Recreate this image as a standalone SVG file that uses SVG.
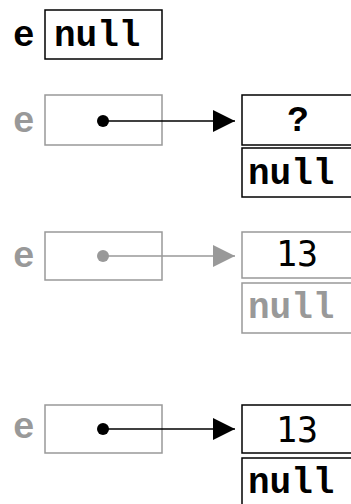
<svg xmlns="http://www.w3.org/2000/svg" width="351" height="504" viewBox="0 0 351 504">
  <defs>
    <marker id="arrow-black" viewBox="0 0 22 22" refX="22" refY="11" markerWidth="22" markerHeight="22" markerUnits="userSpaceOnUse" orient="auto">
      <path d="M0,0 L22,11 L0,22 Z" fill="#000"/>
    </marker>
    <marker id="arrow-gray" viewBox="0 0 22 22" refX="22" refY="11" markerWidth="22" markerHeight="22" markerUnits="userSpaceOnUse" orient="auto">
      <path d="M0,0 L22,11 L0,22 Z" fill="#999"/>
    </marker>
  </defs>
  <style>
    .code { font-family: "Liberation Mono", "Courier New", monospace; font-weight: bold; font-size: 36px; }
    .num { font-family: "DejaVu Sans Mono", monospace; font-size: 35px; fill: #000; }
    .ink { fill: #000; }
    .dim { fill: #999; }
    .box { fill: #fff; stroke: #000; stroke-width: 1.5; }
    .box-dim { fill: #fff; stroke: #999; stroke-width: 1.5; }
    .ptr { stroke: #000; stroke-width: 1.5; fill: none; }
    .ptr-dim { stroke: #999; stroke-width: 1.5; fill: none; }
  </style>

  <!-- step 1: e holds null -->
  <g id="var-e-1">
    <text class="code ink" x="13" y="46">e</text>
    <rect class="box" x="45" y="10" width="117" height="49"/>
    <text class="code ink" x="54" y="46">null</text>
  </g>

  <!-- step 2: e points to a fresh node -->
  <g id="var-e-2">
    <text class="code dim" x="13" y="132">e</text>
    <rect class="box-dim" x="45" y="95" width="117" height="50"/>
  </g>
  <g id="node-2">
    <rect class="box" x="242" y="95" width="130" height="50"/>
    <text class="code ink" x="298" y="131" text-anchor="middle">?</text>
    <rect class="box" x="242" y="148" width="130" height="49"/>
    <text class="code ink" x="248" y="184">null</text>
  </g>

  <!-- step 3: value stored -->
  <g id="var-e-3">
    <text class="code dim" x="13" y="267">e</text>
    <rect class="box-dim" x="45" y="232" width="117" height="48"/>
  </g>
  <g id="node-3">
    <rect class="box-dim" x="242" y="232" width="130" height="46"/>
    <text class="num" x="297" y="266" text-anchor="middle">13</text>
    <rect class="box-dim" x="242" y="283" width="130" height="50"/>
    <text class="code dim" x="248" y="318">null</text>
  </g>

  <!-- step 4: next field -->
  <g id="var-e-4">
    <text class="code dim" x="13" y="438">e</text>
    <rect class="box-dim" x="45" y="405" width="117" height="48"/>
  </g>
  <g id="node-4">
    <rect class="box" x="242" y="405" width="130" height="48"/>
    <text class="num" x="297" y="442" text-anchor="middle">13</text>
    <rect class="box" x="242" y="458" width="130" height="60"/>
    <text class="code ink" x="248" y="493">null</text>
  </g>

  <!-- pointers -->
  <g id="connectors">
    <circle cx="103" cy="121" r="6" fill="#000"/>
    <line class="ptr" x1="103" y1="121" x2="235" y2="121" marker-end="url(#arrow-black)"/>
    <circle cx="103" cy="256" r="6" fill="#999"/>
    <line class="ptr-dim" x1="103" y1="256" x2="235" y2="256" marker-end="url(#arrow-gray)"/>
    <circle cx="103" cy="429" r="6" fill="#000"/>
    <line class="ptr" x1="103" y1="429" x2="235" y2="429" marker-end="url(#arrow-black)"/>
  </g>
</svg>
